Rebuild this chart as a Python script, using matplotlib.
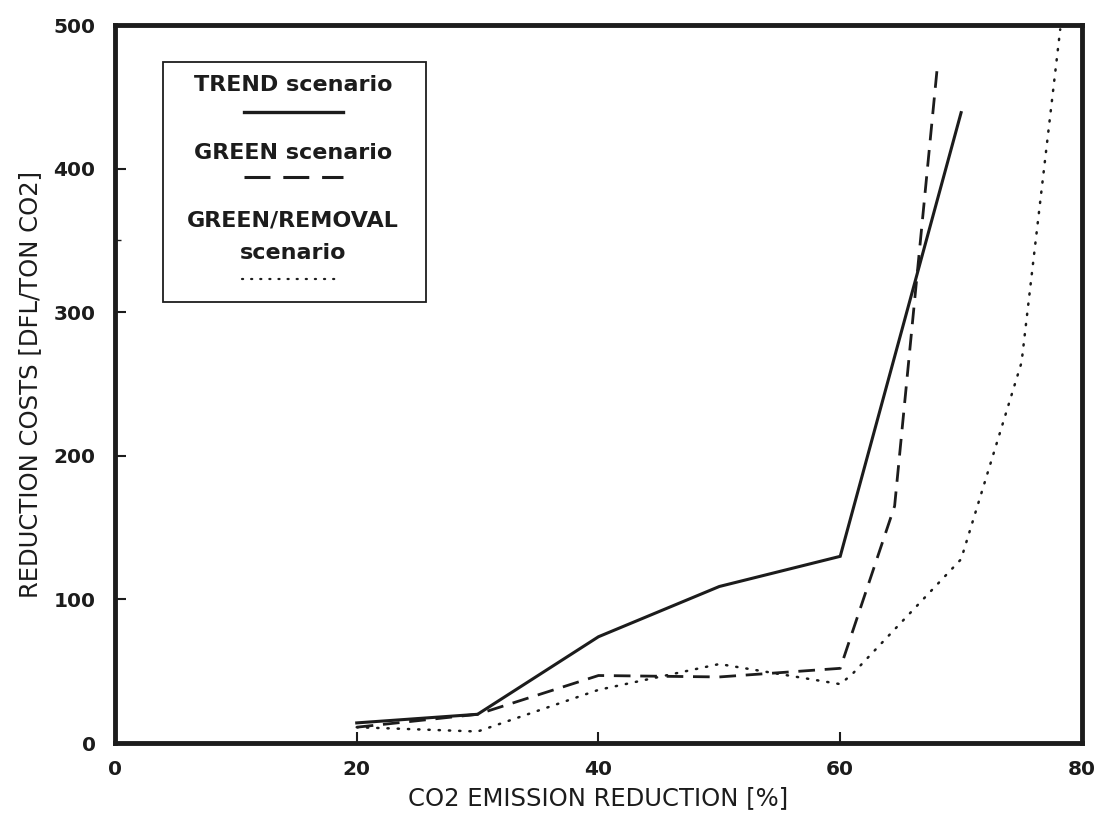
import matplotlib.pyplot as plt
from matplotlib.patches import Rectangle

plt.rcParams['font.family'] = ['DejaVu Sans']

# data
trend_x = [20, 30, 40, 50, 60, 70]
trend_y = [14, 20, 74, 109, 130, 439]

green_x = [20, 30, 40, 50, 60, 64.5, 68]
green_y = [11, 20, 47, 46, 52, 165, 468]

removal_x = [20, 30, 40, 50, 60, 61, 70, 75, 78.2]
removal_y = [11, 8, 37, 55, 41, 48, 128, 265, 497]

xticks = [0, 20, 40, 60, 80]
yticks = [0, 100, 200, 300, 400, 500]

ink = '#1c1c1c'

fig = plt.figure(figsize=(10.97, 8.13), dpi=100)
ax = fig.add_axes([0.1048, 0.0861, 0.8815, 0.8831])

ax.plot(trend_x, trend_y, color=ink, lw=2.2, solid_joinstyle='miter')
ax.plot(green_x, green_y, color=ink, lw=2.0, dashes=(6, 3.5))
ax.plot(removal_x, removal_y, color=ink, lw=1.8, dashes=(0.5, 3.6),
        dash_capstyle='round')

ax.set_xlim(0, 80)
ax.set_ylim(0, 500)
ax.set_xticks(xticks)
ax.set_yticks(yticks)
ax.set_yticks([350], minor=True)
ax.tick_params(direction='in', length=8, width=1.5, color=ink, pad=12,
               labelsize=14.5, labelcolor=ink)
ax.tick_params(axis='y', pad=14)
ax.tick_params(which='minor', direction='in', length=4, width=1, color=ink)
for lab in ax.get_xticklabels() + ax.get_yticklabels():
    lab.set_fontweight('bold')
for s in ax.spines.values():
    s.set_linewidth(3.5)
    s.set_color(ink)

ax.set_xlabel('CO2 EMISSION REDUCTION [%]', fontsize=17.5, color=ink, labelpad=5)
ax.set_ylabel('REDUCTION COSTS [DFL/TON CO2]', fontsize=17.5, color=ink, labelpad=8)

# hand-made legend box like the original
ax.add_patch(Rectangle((0.0496, 0.6142), 0.272, 0.3343, transform=ax.transAxes,
                       fill=False, lw=1.3, ec=ink))
cx = 0.184
fs = 16
ax.text(cx, 0.9164, 'TREND scenario', transform=ax.transAxes, ha='center',
        va='center', fontsize=fs, fontweight='bold', color=ink)
ax.plot([0.133, 0.236], [0.8788, 0.8788], transform=ax.transAxes, color=ink, lw=2.4)
ax.text(cx, 0.8217, 'GREEN scenario', transform=ax.transAxes, ha='center',
        va='center', fontsize=fs, fontweight='bold', color=ink)
ax.plot([0.133, 0.236], [0.7883, 0.7883], transform=ax.transAxes, color=ink,
        lw=2.2, dashes=(8.5, 4.2))
ax.text(cx, 0.7284, 'GREEN/REMOVAL', transform=ax.transAxes, ha='center',
        va='center', fontsize=fs, fontweight='bold', color=ink)
ax.text(cx, 0.6825, 'scenario', transform=ax.transAxes, ha='center',
        va='center', fontsize=fs, fontweight='bold', color=ink)
ax.plot([0.1313, 0.2275], [0.6462, 0.6462], transform=ax.transAxes, color=ink,
        lw=1.6, dashes=(0.5, 3.6), dash_capstyle='round')

fig.savefig('out.png', dpi=100)
